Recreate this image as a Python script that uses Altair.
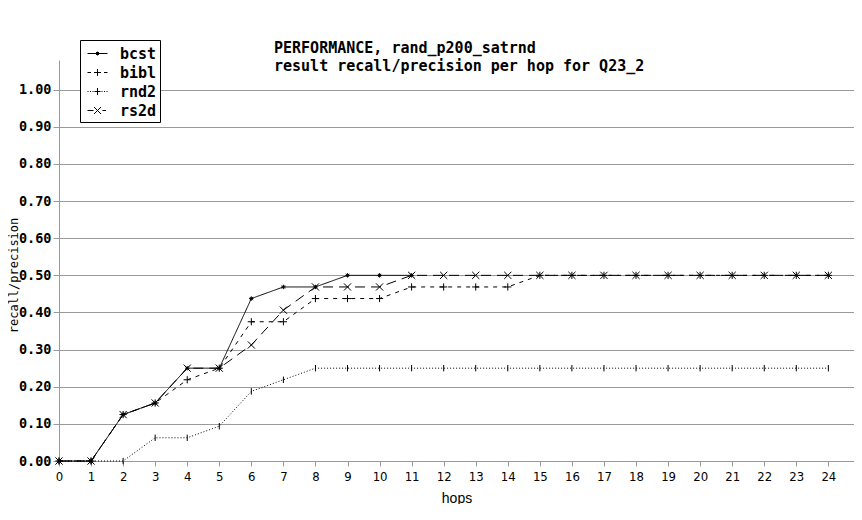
import altair as alt
import pandas as pd

hops = list(range(25))
series_names = ["bcst", "bibl", "rnd2", "rs2d"]
bcst = [0.0, 0.0, 0.125, 0.15625, 0.25, 0.25, 0.4375, 0.46875, 0.46875, 0.5, 0.5, 0.5]
bibl = [0.0, 0.0, 0.125, 0.15625, 0.21875, 0.25, 0.375, 0.375, 0.4375, 0.4375, 0.4375,
        0.46875, 0.46875, 0.46875, 0.46875, 0.5, 0.5, 0.5, 0.5, 0.5, 0.5, 0.5, 0.5, 0.5, 0.5]
rnd2 = [0.0, 0.0, 0.0, 0.0625, 0.0625, 0.09375, 0.1875, 0.21875, 0.25, 0.25, 0.25, 0.25,
        0.25, 0.25, 0.25, 0.25, 0.25, 0.25, 0.25, 0.25, 0.25, 0.25, 0.25, 0.25, 0.25]
rs2d = [0.0, 0.0, 0.125, 0.15625, 0.25, 0.25, 0.3125, 0.40625, 0.46875, 0.46875, 0.46875,
        0.5, 0.5, 0.5, 0.5, 0.5, 0.5, 0.5, 0.5, 0.5, 0.5, 0.5, 0.5, 0.5, 0.5]
title_lines = ["PERFORMANCE, rand_p200_satrnd", "result recall/precision per hop for Q23_2"]
x_title = "hops"
y_title = "recall/precision"
y_ticks = [0.0, 0.1, 0.2, 0.3, 0.4, 0.5, 0.6, 0.7, 0.8, 0.9, 1.0]

rows = []
for name, vals in zip(series_names, [bcst, bibl, rnd2, rs2d]):
    for h, v in zip(hops, vals):
        rows.append({"series": name, "hop": h, "value": v})
df = pd.DataFrame(rows)

MONO = "DejaVu Sans Mono"
GRAY = "#9a9a9a"

dash_range = [[1, 0], [4, 5], [1, 2], [10, 6]]
marker_paths = [
    "M-0.55,0H0.55M0,-0.55V0.55M-0.4,-0.4L0.4,0.4M-0.4,0.4L0.4,-0.4",
    "M-0.9,0H0.9M0,-0.9V0.9",
    "M0,-0.8V0.8",
    "M-0.9,-0.9L0.9,0.9M-0.9,0.9L0.9,-0.9",
]
legend_paths = [
    "M-0.6,0H1.4M0.25,-0.15L0.55,0.15M0.25,0.15L0.55,-0.15M0.4,-0.2V0.2",
    "M-0.6,0H-0.25M0.05,0H0.75M0.4,-0.35V0.35M1.05,0H1.4",
    "M-0.6,0H-0.5M-0.35,0H-0.25M-0.1,0H0M0.1,0H0.7M0.4,-0.35V0.35M0.8,0H0.9M1.05,0H1.15M1.3,0H1.4",
    "M-0.6,0H0M0.05,-0.35L0.75,0.35M0.05,0.35L0.75,-0.35M0.9,0H1.25",
]

x = alt.X(
    "hop:Q",
    scale=alt.Scale(domain=[0, 24.8], nice=False, zero=False),
    axis=alt.Axis(
        values=hops, tickCount=25, title=x_title, grid=False, tickSize=5, labelPadding=4,
        labelOverlap=False, labelFlush=False,
        labelFont="DejaVu Sans Condensed", labelFontSize=13, labelColor="black",
        titleFont="Liberation Sans", titleFontSize=14, titleFontWeight="normal",
        titleColor="black", titlePadding=8, domainColor=GRAY, tickColor=GRAY,
    ),
)
y = alt.Y(
    "value:Q",
    scale=alt.Scale(domain=[0, 1.08], nice=False),
    axis=alt.Axis(
        values=y_ticks, format=".2f", title=y_title, grid=True, gridColor=GRAY,
        tickSize=6, labelPadding=2, labelFont=MONO, labelFontSize=13.5,
        labelFontWeight="bold", labelColor="black", titleFont=MONO,
        titleFontSize=12, titleFontWeight="normal", titleColor="black",
        titleX=-42, titleY=215, titleAngle=270, titleAlign="center",
        titleBaseline="alphabetic", domainColor=GRAY, tickColor=GRAY,
    ),
)

lines = alt.Chart(df).mark_line(color="black", strokeWidth=1).encode(
    x=x, y=y,
    strokeDash=alt.StrokeDash("series:N", scale=alt.Scale(domain=series_names, range=dash_range), legend=None),
    detail="series:N",
)

points = alt.Chart(df).mark_point(filled=False, color="black", strokeWidth=1, size=64, opacity=1).encode(
    x=x, y=y,
    shape=alt.Shape("series:N", scale=alt.Scale(domain=series_names, range=marker_paths), legend=None),
)

legend_layer = alt.Chart(df).mark_point(filled=False, color="black").transform_filter("false").encode(
    shape=alt.Shape(
        "series:N",
        scale=alt.Scale(domain=series_names, range=legend_paths),
        legend=alt.Legend(
            title=None, orient="none", legendX=21, legendY=-20,
            strokeColor="black", fillColor="white", padding=3,
            symbolSize=400, symbolStrokeWidth=1, symbolStrokeColor="black",
            symbolFillColor="transparent", symbolOpacity=1,
            labelFont=MONO, labelFontSize=15, labelFontWeight="bold",
            labelColor="black", labelOffset=16, rowPadding=0,
        ),
    ),
)

title_df = pd.DataFrame({"t": ["\n".join(title_lines)]})
title = alt.Chart(title_df).mark_text(
    align="left", baseline="alphabetic", font=MONO, fontSize=15, fontWeight="bold",
    lineBreak="\n", lineHeight=18, color="black",
).encode(text="t:N", x=alt.value(215), y=alt.value(-7))

chart = alt.layer(lines, points, legend_layer, title).resolve_scale(
    shape="independent"
).resolve_legend(shape="independent").properties(
    width=795, height=401,
    padding={"left": 51, "top": 52, "right": 0, "bottom": 43},
    autosize="none",
).configure_view(stroke=None)

chart.save("out.html", embed_options={"renderer": "svg", "actions": False})
